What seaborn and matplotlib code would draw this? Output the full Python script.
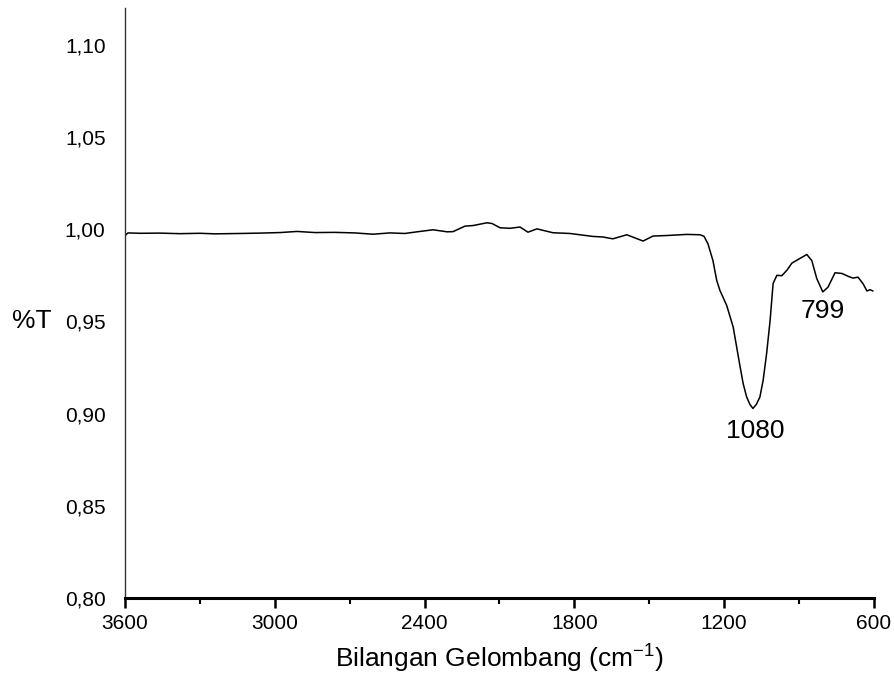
import matplotlib
matplotlib.use("Agg")
import matplotlib.pyplot as plt
import seaborn as sns
import pandas as pd
from matplotlib.ticker import MultipleLocator, FixedLocator

# ---- data ----
wavenumber = [3600, 3588, 3540, 3460, 3380, 3300, 3240, 3139, 3059, 2979, 2911,
              2839, 2759, 2679, 2607, 2539, 2479, 2419, 2366, 2310, 2286, 2238,
              2206, 2150, 2130, 2098, 2058, 2018, 1986, 1950, 1886, 1818, 1726,
              1686, 1646, 1590, 1525, 1485, 1429, 1349, 1297, 1281, 1265, 1245,
              1230, 1217, 1190, 1164, 1137, 1124, 1110, 1097, 1085, 1071, 1057,
              1044, 1030, 1016, 1004, 989, 969, 949, 929, 905, 869, 849, 829,
              805, 784, 756, 728, 704, 684, 664, 644, 628, 616, 604]
transmittance = [0.9966, 0.9980, 0.9978, 0.9979, 0.9976, 0.9978, 0.9975, 0.9977,
                 0.9979, 0.9982, 0.9988, 0.9982, 0.9983, 0.9980, 0.9973, 0.9980,
                 0.9977, 0.9988, 0.9997, 0.9986, 0.9987, 1.0017, 1.0020, 1.0035,
                 1.0031, 1.0008, 1.0005, 1.0012, 0.9984, 1.0002, 0.9981, 0.9977,
                 0.9961, 0.9958, 0.9948, 0.9970, 0.9936, 0.9963, 0.9966, 0.9972,
                 0.9970, 0.9962, 0.9921, 0.9830, 0.9723, 0.9668, 0.9587, 0.9470,
                 0.9260, 0.9163, 0.9090, 0.9050, 0.9028, 0.9050, 0.9090, 0.9180,
                 0.9326, 0.9506, 0.9706, 0.9750, 0.9748, 0.9777, 0.9816, 0.9835,
                 0.9863, 0.9830, 0.9732, 0.9660, 0.9686, 0.9764, 0.9760, 0.9745,
                 0.9735, 0.9740, 0.9705, 0.9665, 0.9672, 0.9665]
x_ticks = [3600, 3000, 2400, 1800, 1200, 600]
y_ticks = [0.80, 0.85, 0.90, 0.95, 1.00, 1.05, 1.10]
peak_labels = ["1080", "799"]
peak_pos = [1085, 805]
peak_val = [0.9028, 0.9660]

df = pd.DataFrame({"wn": wavenumber, "T": transmittance})

sns.set_style("white")
plt.rcParams["font.family"] = ["Liberation Sans", "DejaVu Sans"]
plt.rcParams["text.color"] = "black"
plt.rcParams["axes.labelcolor"] = "black"
plt.rcParams["xtick.color"] = "black"
plt.rcParams["ytick.color"] = "black"

fig = plt.figure(figsize=(8.95, 6.95), dpi=100)
ax = fig.add_axes([0.1397, 0.1396, 0.9765 - 0.1397, 0.9885 - 0.1396])

sns.lineplot(data=df, x="wn", y="T", ax=ax, color="black", linewidth=1.1,
             sort=False, estimator=None)

ax.set_xlim(3600, 600)
ax.set_ylim(0.80, 1.12)

ax.xaxis.set_major_locator(FixedLocator(x_ticks))
ax.xaxis.set_minor_locator(MultipleLocator(300))
ax.set_xticklabels([str(t) for t in x_ticks])
ax.yaxis.set_major_locator(FixedLocator(y_ticks))
ax.set_yticklabels([f"{t:.2f}".replace(".", ",") for t in y_ticks])

ax.tick_params(axis="x", which="major", direction="out", length=7.5, width=1.8,
               labelsize=15, pad=4, bottom=True)
ax.tick_params(axis="x", which="minor", direction="out", length=4.5, width=1.5,
               bottom=True)
ax.tick_params(axis="y", which="both", length=0, labelsize=15, pad=14)

for s in ["top", "right"]:
    ax.spines[s].set_visible(False)
ax.spines["bottom"].set_linewidth(2.2)
ax.spines["bottom"].set_color("black")
ax.spines["left"].set_linewidth(1.0)
ax.spines["left"].set_color("#333333")

ax.set_xlabel("Bilangan Gelombang (cm$^{\\mathregular{-1}}$)", fontsize=19)
ax.xaxis.label.set_va("baseline")
ax.xaxis.set_label_coords(0.5, -0.117)
ax.set_ylabel("")
fig.text(32 / 895, 1 - 321 / 695, "%T", fontsize=19, ha="center", va="center")

ax.annotate(peak_labels[0], xy=(peak_pos[0], peak_val[0]), xytext=(2, -21),
            textcoords="offset points", ha="center", va="baseline", fontsize=19)
ax.annotate(peak_labels[1], xy=(peak_pos[1], peak_val[1]), xytext=(0, -19),
            textcoords="offset points", ha="center", va="baseline", fontsize=19)

fig.savefig("out.png", dpi=100)
